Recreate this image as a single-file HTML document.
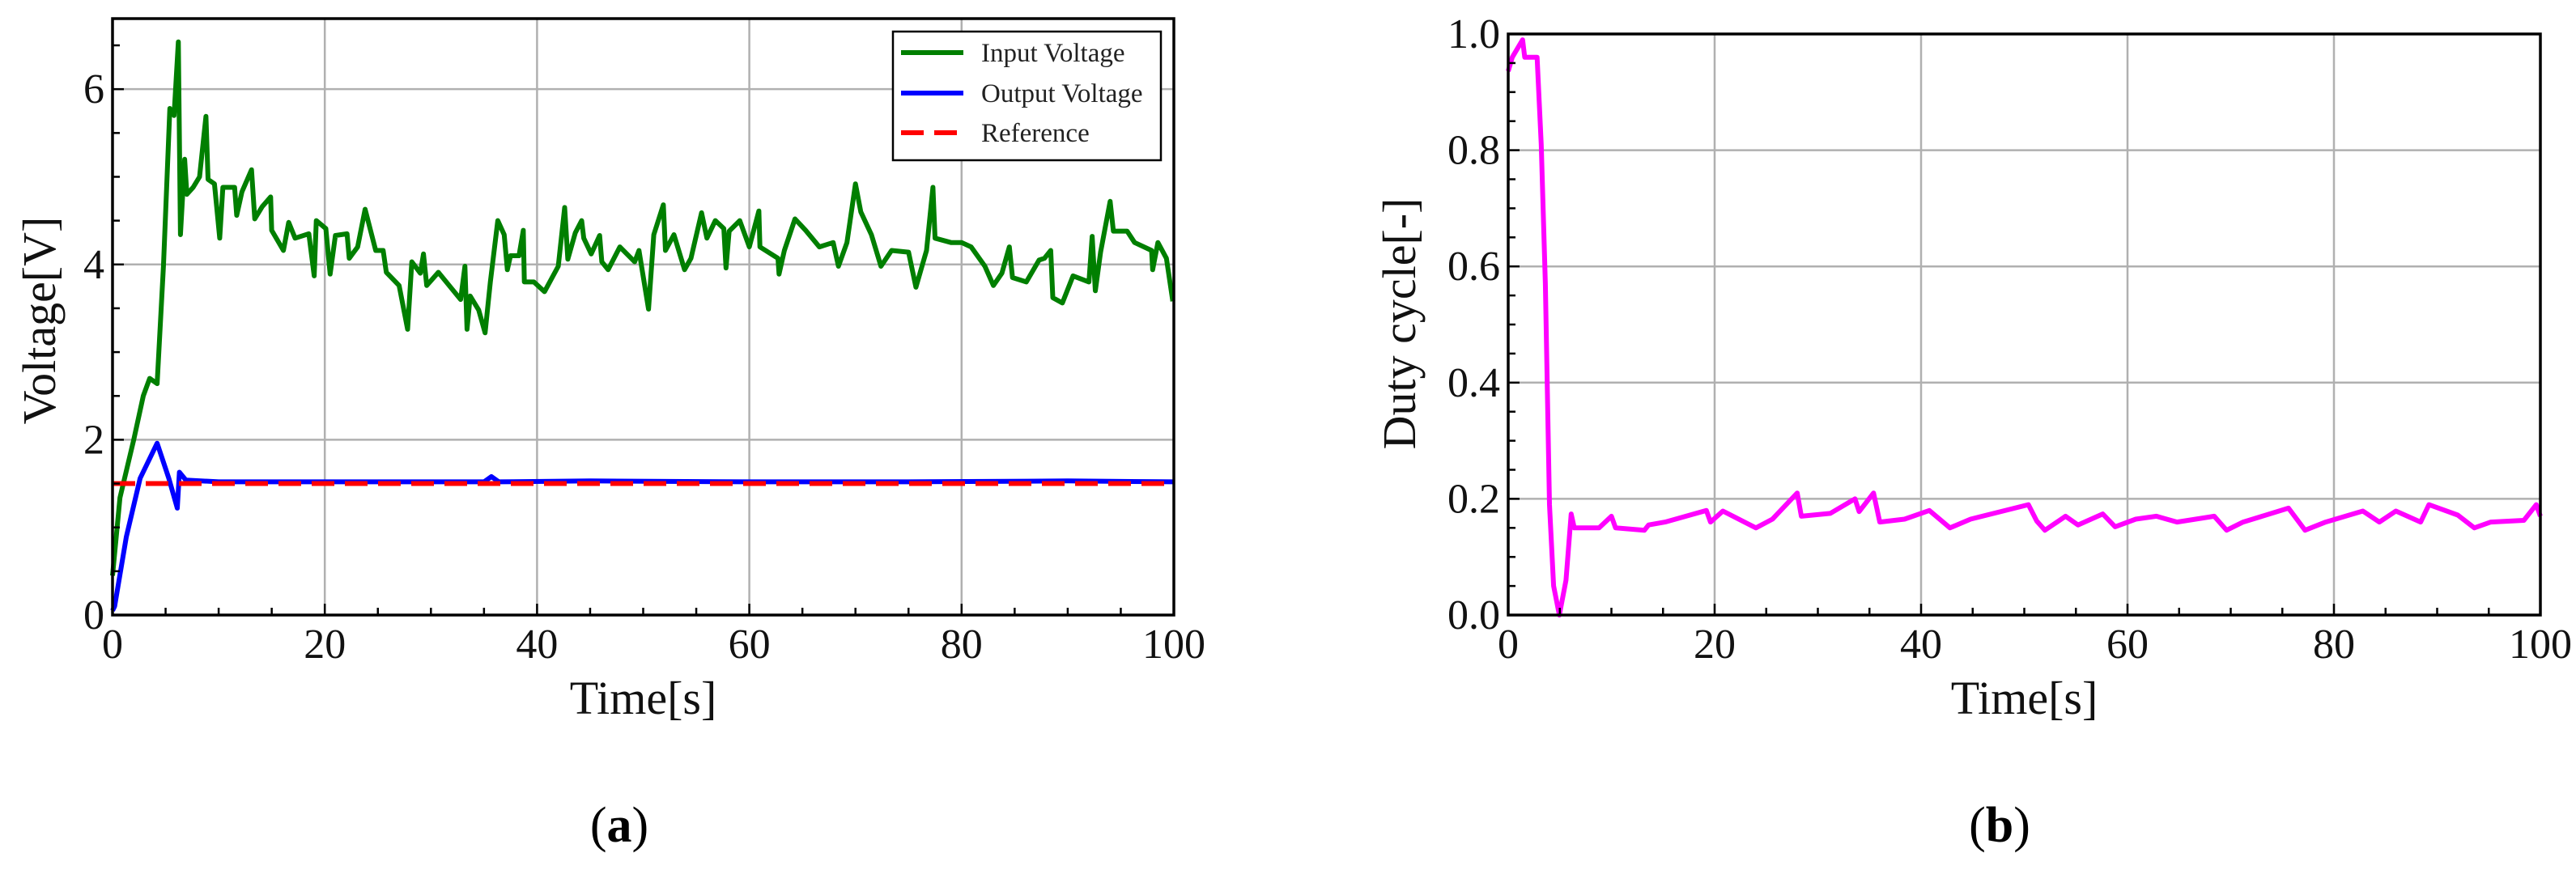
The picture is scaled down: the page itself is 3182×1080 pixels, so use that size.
<!DOCTYPE html>
<html><head><meta charset="utf-8"><style>
html,body{margin:0;padding:0;background:#fff;}
svg{display:block;font-family:"Liberation Serif",serif;}
</style></head>
<body>
<svg id="fig" width="3182" height="1080" viewBox="0 0 3182 1080" xmlns="http://www.w3.org/2000/svg"></svg>
<script>
// ---- data: panel (a) ----
const inputT = [0,0.7,2,2.9,3.5,4.2,4.8,5.4,5.8,6.2,6.4,6.8,7,7.6,8.2,8.8,9,9.6,10.1,10.4,11.5,11.7,12.2,13.1,13.4,14.1,14.9,15,16.1,16.6,17.2,18.5,19,19.2,20.1,20.5,21,22.1,22.3,23.1,23.8,24.8,25.5,25.8,27,27.8,28.2,29,29.3,29.6,30.7,32.8,33.2,33.4,33.7,34.5,35.1,35.6,36.3,36.9,37.2,37.5,38.3,38.7,38.8,39.7,40.7,42,42.6,42.9,43.6,44.2,44.4,45.1,45.9,46.1,46.7,47.8,49.2,49.6,50.5,51,51.9,52.1,52.9,53.9,54.5,55.5,56,56.8,57.6,57.8,58.1,59.1,60,60.9,61,62.7,62.8,63.3,64.3,65.3,66.6,67.9,68.4,69.2,70,70.5,71.5,72.4,73.4,75,75.7,76.7,77.3,77.5,79,80,80.9,82.2,83,83.8,84.5,84.8,86.1,87.3,87.8,88.4,88.6,89.5,90.5,92,92.3,92.6,93.1,94,94.3,95.6,96.3,97.9,98,98.5,99.3,99.9];
const inputV = [0.45,1.34,2.0,2.5,2.7,2.64,3.98,5.78,5.7,6.54,4.34,5.2,4.8,4.88,5.0,5.69,4.97,4.92,4.3,4.88,4.88,4.56,4.83,5.08,4.52,4.66,4.77,4.39,4.16,4.48,4.3,4.35,3.87,4.5,4.41,3.89,4.33,4.35,4.07,4.2,4.63,4.16,4.16,3.91,3.76,3.26,4.03,3.9,4.12,3.76,3.91,3.6,3.98,3.26,3.64,3.48,3.22,3.8,4.5,4.34,3.94,4.1,4.1,4.39,3.8,3.8,3.69,3.98,4.65,4.06,4.36,4.5,4.3,4.12,4.33,4.03,3.94,4.2,4.03,4.16,3.49,4.34,4.68,4.16,4.34,3.94,4.07,4.59,4.3,4.5,4.41,3.96,4.38,4.5,4.2,4.61,4.2,4.07,3.89,4.16,4.52,4.39,4.2,4.25,3.98,4.25,4.92,4.6,4.34,3.98,4.16,4.14,3.74,4.16,4.88,4.3,4.25,4.25,4.2,3.98,3.76,3.9,4.2,3.85,3.8,4.05,4.07,4.16,3.62,3.56,3.87,3.8,4.32,3.7,4.14,4.72,4.38,4.38,4.25,4.16,3.94,4.25,4.07,3.58];
const outputT = [0,0.2,1.3,2.6,4.2,5.3,6.1,6.3,6.9,10,20,30,35,35.7,36.4,45,60,75,90,100];
const outputV = [0.05,0.1,0.89,1.56,1.96,1.56,1.22,1.63,1.54,1.52,1.52,1.52,1.52,1.58,1.52,1.53,1.52,1.52,1.53,1.52];
const refV = 1.5;
const leftXTicks = [0,20,40,60,80,100];
const leftYTicks = [0,2,4,6];
const leftYLabels = ["0","2","4","6"];
// ---- data: panel (b) ----
const dutyT = [0,0.4,1.4,1.6,2.4,2.8,3.2,3.6,4,4.4,4.96,5.6,6.1,6.4,8.8,10,10.4,13.2,13.6,15.2,19.2,19.6,20.8,24,25.6,28,28.4,31.2,33.6,34,35.4,36,38.4,40.8,42.8,44.8,50.4,51.2,52,54,55.2,57.6,58.8,60.8,62.8,64.8,68.4,69.6,71.2,75.6,77.2,79.2,82.8,84.4,86,88.4,89.2,92,93.6,95.2,98.4,99.6,100];
const dutyV = [0.936,0.96,0.99,0.96,0.96,0.96,0.81,0.57,0.19,0.05,0.0,0.06,0.174,0.15,0.15,0.17,0.15,0.146,0.155,0.16,0.18,0.16,0.179,0.15,0.165,0.21,0.17,0.175,0.2,0.178,0.21,0.16,0.165,0.18,0.15,0.165,0.19,0.162,0.146,0.17,0.155,0.174,0.152,0.165,0.17,0.16,0.17,0.146,0.16,0.184,0.146,0.16,0.179,0.16,0.179,0.16,0.19,0.172,0.15,0.16,0.163,0.19,0.17];
const rightXTicks = [0,20,40,60,80,100];
const rightYTicks = [0,0.2,0.4,0.6,0.8,1.0];
const rightYLabels = ["0.0","0.2","0.4","0.6","0.8","1.0"];

const NS = "http://www.w3.org/2000/svg";
const svg = document.getElementById('fig');
function mk(tag, attrs, parent){const e=document.createElementNS(NS,tag);for(const k in attrs)e.setAttribute(k,attrs[k]);(parent||svg).appendChild(e);return e;}

function panel(P){
  const g = mk('g',{});
  
  
  const X = t => P.x0 + (t - 0) * (P.x1 - P.x0) / 100;
  const Y = v => P.yb - (v - 0) * (P.yb - P.yt) / P.ymax;
  // grid
  P.xt.forEach(t=>{ if(t>0&&t<100){const l=mk('line',{x1:X(t),x2:X(t),y1:P.yt,y2:P.yb,stroke:'#b0b0b0','stroke-width':2.5},g);
    
    }});
  P.yt_.forEach(v=>{ if(v>0&&Y(v)>P.yt+2){const l=mk('line',{x1:P.x0,x2:P.x1,y1:Y(v),y2:Y(v),stroke:'#b0b0b0','stroke-width':2.5},g);
    
    }});
  // series
  P.series.forEach(s=>{
    const d = s.t.map((t,i)=>(i?'L':'M')+X(t).toFixed(1)+','+Y(s.v[i]).toFixed(1)).join('');
    const p = mk('path',{d:d,fill:'none',stroke:s.color,'stroke-width':s.w,'stroke-linejoin':'round','stroke-dasharray':s.dash||'none'},g);
    
    
  });
  // ticks
  for(let t=0;t<=100;t+=5){const major=t%20===0;mk('line',{x1:X(t),x2:X(t),y1:P.yb,y2:P.yb-(major?14:9),stroke:'#000','stroke-width':2.5},g);}
  for(let v=0;v<=P.ymax+1e-9;v+=P.minor){const major=P.yt_.some(m=>Math.abs(m-v)<1e-6);mk('line',{x1:P.x0,x2:P.x0+(major?14:9),y1:Y(v),y2:Y(v),stroke:'#000','stroke-width':2.5},g);}
  // frame
  const f = mk('rect',{x:P.x0,y:P.yt,width:P.x1-P.x0,height:P.yb-P.yt,fill:'none',stroke:'#000','stroke-width':3.5},g);
  
  
  // tick labels
  P.xt.forEach(t=>{const e=mk('text',{x:X(t),y:P.yb+53,'font-size':52,'text-anchor':'middle',fill:'#111'},g);e.textContent=String(t);
    
    });
  P.yt_.forEach((v,i)=>{const e=mk('text',{x:P.x0-10,y:Y(v)+17,'font-size':52,'text-anchor':'end',fill:'#111'},g);e.textContent=P.yl[i];
    
    });
  // axis titles
  const xt = mk('text',{x:(P.x0+P.x1)/2,y:882,'font-size':58,'text-anchor':'middle',fill:'#111'},g);xt.textContent='Time[s]';
  
  
  const yt = mk('text',{x:0,y:0,'font-size':58,'text-anchor':'middle',fill:'#111',transform:`translate(${P.ylx},${P.yly}) rotate(-90)`},g);yt.textContent=P.ytitle;
  
  
  const cap = mk('text',{x:P.capx,y:1040,'font-size':62,'text-anchor':'middle',fill:'#000'},g);
  cap.innerHTML = '(<tspan font-weight="bold">'+P.cap+'</tspan>)';
  
  
  return {g,X,Y};
}

const A = panel({name:'voltage-chart',x0:139,x1:1450,yt:23,yb:760,ymax:6.805,minor:0.5,xt:leftXTicks,yt_:leftYTicks,yl:leftYLabels,
  ytitle:'Voltage[V]',ylx:68,yly:396,capx:765,cap:'a',
  series:[
    {name:'input-voltage-line',t:inputT,v:inputV,color:'#007f00',w:6},
    {name:'output-voltage-line',t:outputT,v:outputV,color:'#0000ff',w:6},
    {name:'reference-line',t:[0,100],v:[refV,refV],color:'#ff0000',w:6,dash:'28 13'}
  ]});

const B = panel({name:'duty-cycle-chart',x0:1863,x1:3138,yt:42,yb:760,ymax:1.0,minor:0.05,xt:rightXTicks,yt_:rightYTicks,yl:rightYLabels,
  ytitle:'Duty cycle[-]',ylx:1748,yly:400,capx:2470,cap:'b',
  series:[{name:'duty-cycle-line',t:dutyT,v:dutyV,color:'#ff00ff',w:6}]});

// legend
const lg = mk('g',{});


mk('rect',{x:1103,y:39,width:331,height:159,fill:'#fff',stroke:'#000','stroke-width':2.5},lg);
const entries=[['Input Voltage','#007f00',null,65],['Output Voltage','#0000ff',null,115],['Reference','#ff0000','28 13',164]];
entries.forEach(en=>{
  const eg = mk('g',{},lg);
  
  
  mk('line',{x1:1113,x2:1190,y1:en[3],y2:en[3],stroke:en[1],'stroke-width':6,'stroke-dasharray':en[2]||'none'},eg);
  const t=mk('text',{x:1212,y:en[3]+11,'font-size':33,fill:'#222'},eg);t.textContent=en[0];
});
</script>
</body></html>
